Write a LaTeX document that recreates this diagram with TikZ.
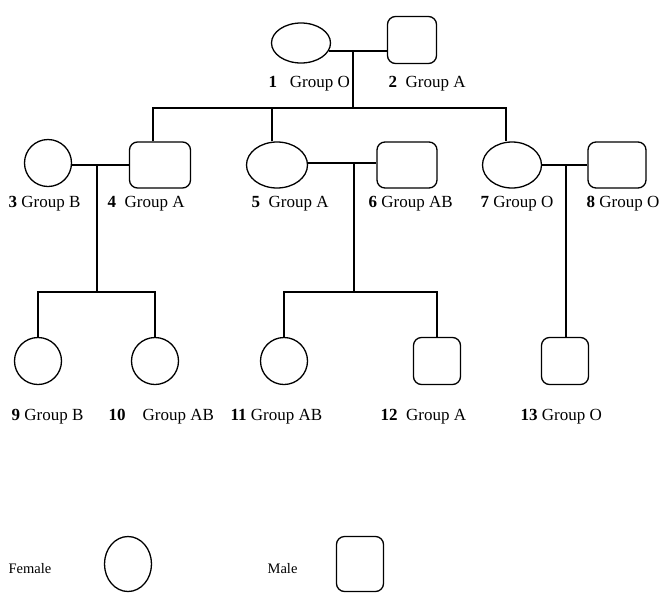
\documentclass[tikz,border=0pt]{standalone}
\usepackage{fontspec}
\setmainfont{Liberation Serif}
\usetikzlibrary{shapes.geometric}

\begin{document}
\begin{tikzpicture}[x=1pt,y=-1pt,line width=1.3pt,
    female/.style={draw,ellipse,inner sep=0pt,minimum width=47pt,minimum height=47pt},
    male/.style={draw,rectangle,rounded corners=8pt,inner sep=0pt,minimum width=47pt,minimum height=47pt},
    lab/.style={anchor=base west,inner sep=0pt,font=\fontsize{17}{20}\selectfont}]
    \useasboundingbox (0,0) rectangle (661,592);

    \node[female,minimum width=59pt,minimum height=40pt] (p1) at (301,43)  {};
    \node[male,minimum width=49pt]                      (p2) at (412,40)  {};
    \node[female]                                       (p3) at (48,163)  {};
    \node[male,minimum width=61pt,minimum height=46pt]  (p4) at (160,165) {};
    \node[female,minimum width=61pt,minimum height=46pt] (p5) at (277,165) {};
    \node[male,minimum width=60pt,minimum height=46pt]  (p6) at (407,165) {};
    \node[female,minimum width=59pt,minimum height=46pt] (p7) at (512,165) {};
    \node[male,minimum width=58pt,minimum height=46pt]  (p8) at (617,165) {};
    \node[female] (p9)  at (38,361)  {};
    \node[female] (p10) at (155,361) {};
    \node[female] (p11) at (284,361) {};
    \node[male]   (p12) at (437,361) {};
    \node[male]   (p13) at (565,361) {};

    \node[lab] (l1)  at (268,87)  {\textbf{1}\enskip\ Group O};
    \node[lab] (l2)  at (388,87)  {\textbf{2}\enskip Group A};
    \node[lab] (l3)  at (8,207)   {\textbf{3} Group B};
    \node[lab] (l4)  at (107,207) {\textbf{4}\enskip Group A};
    \node[lab] (l5)  at (251,207) {\textbf{5}\enskip Group A};
    \node[lab] (l6)  at (368,207) {\textbf{6} Group AB};
    \node[lab] (l7)  at (480,207) {\textbf{7} Group O};
    \node[lab] (l8)  at (586,207) {\textbf{8} Group O};
    \node[lab] (l9)  at (11,420)  {\textbf{9} Group B};
    \node[lab] (l10) at (108,420) {\textbf{10}\quad Group AB};
    \node[lab] (l11) at (230,420) {\textbf{11} Group AB};
    \node[lab] (l12) at (380,420) {\textbf{12}\enskip Group A};
    \node[lab] (l13) at (520,420) {\textbf{13} Group O};

    \coordinate (c1) at (353,51);
    \coordinate (s1) at (353,108);
    \coordinate (c2) at (97,165);
    \coordinate (s2) at (97,292);
    \coordinate (c3) at (354,163);
    \coordinate (s3) at (354,292);
    \coordinate (c4) at (566,165);

    \draw (p1.-16) -- (p2.west |- p1.-16);
    \draw (c1) -- (s1);
    \draw ([xshift=-7pt]p4.north) |- (s1) -| ([xshift=-6pt]p7.north);
    \draw ([xshift=-5pt]p5.north) -- ([xshift=-5pt]p5.north |- s1);

    \draw (p3.east |- c2) -- (p4.west |- c2);
    \draw (c2) -- (s2);
    \draw (p9.north) |- (s2) -| (p10.north);

    \draw (p5.east |- c3) -- (p6.west |- c3);
    \draw (c3) -- (s3);
    \draw (p11.north) |- (s3) -| (p12.north);

    \draw (p7.east |- c4) -- (p8.west |- c4);
    \draw (c4) -- (c4 |- p13.north);

    \node[lab,font=\fontsize{14.5}{17}\selectfont] (lf) at (8,573) {Female};
    \node[female,minimum height=55pt] (kf) at (128,564) {};
    \node[lab,font=\fontsize{14.5}{17}\selectfont] (lm) at (267,573) {Male};
    \node[male,minimum height=55pt] (km) at (360,564) {};
\end{tikzpicture}
\end{document}
